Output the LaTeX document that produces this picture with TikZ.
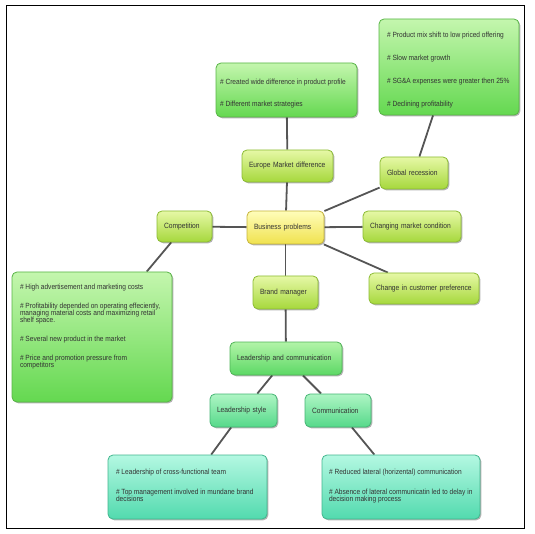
\documentclass[tikz,border=0pt]{standalone}
\usepackage{fontspec}
\newfontfamily\labfont[FakeStretch=0.88]{Liberation Sans}
\usetikzlibrary{shadows,backgrounds}
\definecolor{ygT}{HTML}{E6F8A6}
\definecolor{ygB}{HTML}{A6D83C}
\definecolor{ygD}{HTML}{8BBB33}
\definecolor{yeT}{HTML}{FFFDBA}
\definecolor{yeB}{HTML}{F0E24E}
\definecolor{yeD}{HTML}{C6B43C}
\definecolor{grT}{HTML}{C4F6AE}
\definecolor{grB}{HTML}{64D850}
\definecolor{grD}{HTML}{58B446}
\definecolor{lgT}{HTML}{B2F4A8}
\definecolor{lgB}{HTML}{5CD865}
\definecolor{lgD}{HTML}{4FB457}
\definecolor{tgT}{HTML}{AEF5C4}
\definecolor{tgB}{HTML}{56D98A}
\definecolor{tgD}{HTML}{45B574}
\definecolor{tlT}{HTML}{B4F8E2}
\definecolor{tlB}{HTML}{52DAAE}
\definecolor{tlD}{HTML}{42B68E}
\definecolor{lineC}{HTML}{555555}
\definecolor{txtC}{HTML}{333333}
\newcommand{\mydbox}[4]{\parbox[c][#2][t]{#1}{\fontsize{7.5}{7}\selectfont\vspace*{#3}#4}}
\tikzset{
  boxbase/.style={rounded corners=5pt, line width=0.8pt, text=txtC,
    drop shadow={shadow xshift=1.3pt, shadow yshift=-1.3pt, fill=black, opacity=0.3}},
  lbl/.style={boxbase, inner ysep=0pt, inner xsep=7pt, align=left,
    font=\labfont\fontsize{7.6}{8}\selectfont},
  detail/.style={boxbase, inner ysep=0pt, font=\labfont},
  yg/.style={draw=ygD, top color=ygT, bottom color=ygB},
  ye/.style={draw=yeD, top color=yeT, bottom color=yeB},
  gr/.style={draw=grD, top color=grT, bottom color=grB},
  lg/.style={draw=lgD, top color=lgT, bottom color=lgB},
  tg/.style={draw=tgD, top color=tgT, bottom color=tgB},
  tl/.style={draw=tlD, top color=tlT, bottom color=tlB},
  conn/.style={draw=lineC, line width=1.8pt}
}
\begin{document}
\begin{tikzpicture}[x=1pt, y=-1pt]
\useasboundingbox (0,0) rectangle (535,534);
% detail boxes
\node[detail, gr, inner xsep=8pt] (tr) at (449,67)
  {\mydbox{124pt}{96pt}{13pt}{\# Product mix shift to low priced offering\\[16pt]\# Slow market growth\\[16pt]\# SG\&A expenses were greater then 25\%\\[16pt]\# Declining profitability}};
\node[detail, gr, inner xsep=4pt] (tm) at (286.5,90)
  {\mydbox{133pt}{54pt}{16pt}{\# Created wide difference in product profile\\[15pt]\# Different market strategies}};
\node[detail, gr, inner xsep=8pt] (lb) at (92,337)
  {\mydbox{144pt}{130pt}{12pt}{\# High advertisement and marketing costs\\[12pt]\# Profitability depended on operating effeciently,\\ managing material costs and maximizing retail\\ shelf space.\\[12pt]\# Several new product in the market\\[12pt]\# Price and promotion pressure from\\ competitors}};
\node[detail, tl, inner xsep=8pt] (bl) at (187.5,487)
  {\mydbox{143pt}{64pt}{14pt}{\# Leadership of cross-functional team\\[13pt]\# Top management involved in mundane brand\\ decisions}};
\node[detail, tl, inner xsep=7pt] (br) at (401,487)
  {\mydbox{144pt}{64pt}{14pt}{\# Reduced lateral (horizental) communication\\[13pt]\# Absence of lateral communicatin led to delay in\\ decision making process}};
% label nodes
\node[lbl, ye, text width=63pt, minimum height=33pt] (bp) at (285.5,227.5) {Business problems};
\node[lbl, yg, text width=77pt, minimum height=32pt] (eur) at (287.5,166) {Europe Market difference};
\node[lbl, yg, text width=54pt, minimum height=32pt] (glob) at (414,173) {Global recession};
\node[lbl, yg, text width=41pt, minimum height=31pt] (comp) at (184.5,226.5) {Competition};
\node[lbl, yg, text width=84pt, minimum height=31pt] (cmc) at (412,226.5) {Changing market condition};
\node[lbl, yg, text width=51pt, minimum height=33pt] (bm) at (285.5,292.5) {Brand manager};
\node[lbl, yg, text width=96pt, minimum height=31pt] (cicp) at (424,288.5) {Change in customer preference};
\node[lbl, lg, text width=98pt, minimum height=33pt] (lac) at (286,358.5) {Leadership and communication};
\node[lbl, tg, text width=53pt, minimum height=33pt] (ls) at (243.5,410.5) {Leadership style};
\node[lbl, tg, text width=52pt, minimum height=33pt] (com) at (338,410.5) {Communication};
% connectors
\begin{scope}[on background layer]
\draw[black, line width=0.9pt] (6,5) rectangle (524,528);
\draw[conn] (bp) -- (eur);
\draw[conn] (eur) -- (tm);
\draw[conn] (bp) -- (glob);
\draw[conn] (glob) -- (tr);
\draw[conn] (bp) -- (comp);
\draw[conn] (comp) -- (lb);
\draw[conn] (bp) -- (cmc);
\draw[conn] (bp) -- (cicp);
\draw[conn] (bp) -- (bm);
\draw[conn] (bm) -- (lac);
\draw[conn] (lac) -- (ls);
\draw[conn] (lac) -- (com);
\draw[conn] (ls) -- (bl);
\draw[conn] (com) -- (br);
\end{scope}
\end{tikzpicture}
\end{document}
